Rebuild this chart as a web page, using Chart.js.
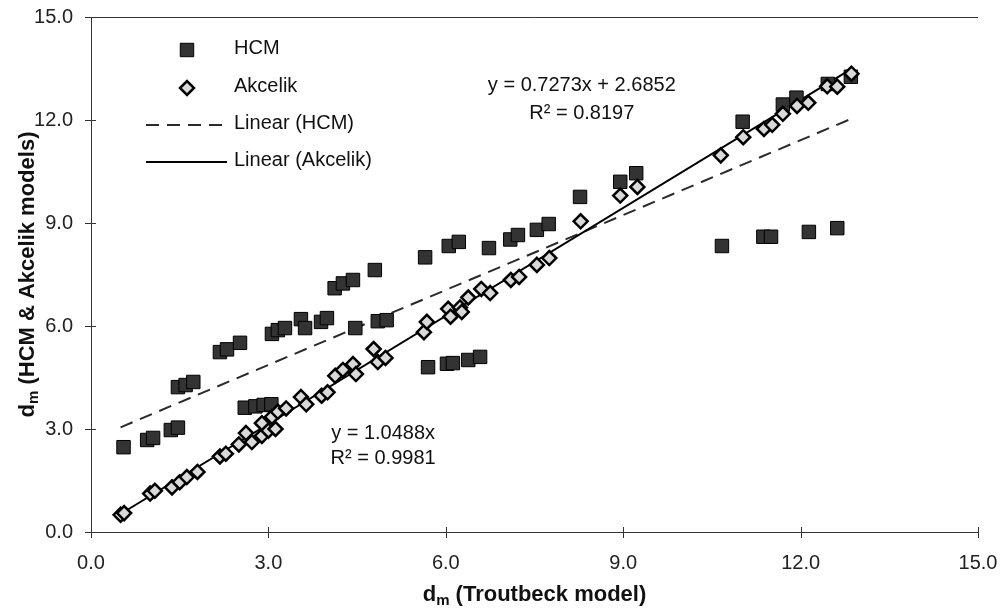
<!DOCTYPE html>
<html>
<head>
<meta charset="utf-8">
<script src="https://cdn.jsdelivr.net/npm/chart.js@4.4.1/dist/chart.umd.min.js"></script>
<style>
  html, body { margin: 0; padding: 0; background: #fff; }
  canvas { display: block; }
</style>
</head>
<body>
<canvas id="chart" width="1008" height="612"></canvas>
<script>
// Delay per model: Troutbeck (x) against HCM and Akcelik (y)
const hcmX = [0.55, 0.95, 1.05, 1.35, 1.47, 1.47, 1.60, 1.73, 2.18, 2.30, 2.52, 2.60, 2.78, 2.92, 3.05,
              3.06, 3.16, 3.28, 3.55, 3.62, 3.89, 3.99, 4.12, 4.26, 4.43, 4.47, 4.80, 4.85, 5.00,
              5.65, 6.05, 6.22, 6.73, 7.09, 7.22, 7.54, 7.74, 8.27, 8.95, 9.22, 11.02, 11.70, 11.93,
              12.46, 12.85, 5.70, 6.02, 6.12, 6.38, 6.58, 10.67, 11.37, 11.50, 12.14, 12.62];
const hcmY = [2.47, 2.68, 2.74, 2.97, 3.04, 4.22, 4.28, 4.37, 5.24, 5.32, 5.51, 3.62, 3.66, 3.70, 3.72,
              5.77, 5.88, 5.94, 6.20, 5.94, 6.12, 6.23, 7.10, 7.24, 7.34, 5.94, 7.63, 6.14, 6.17,
              8.00, 8.33, 8.45, 8.27, 8.52, 8.65, 8.80, 8.97, 9.76, 10.20, 10.45, 11.95, 12.45, 12.65,
              13.05, 13.26, 4.80, 4.90, 4.92, 5.01, 5.10, 8.33, 8.60, 8.60, 8.74, 8.85];

const akcX = [0.50, 0.56, 1.00, 1.08, 1.37, 1.50, 1.62, 1.80, 2.18, 2.28, 2.50, 2.62, 2.72, 2.89, 2.89,
              3.00, 3.06, 3.12, 3.16, 3.30, 3.55, 3.64, 3.90, 4.00, 4.13, 4.26, 4.43, 4.48, 4.78,
              4.85, 4.98, 5.63, 5.68, 6.04, 6.08, 6.24, 6.27, 6.38, 6.60, 6.75, 7.10, 7.24, 7.54,
              7.75, 8.28, 8.95, 9.24, 10.65, 11.03, 11.38, 11.52, 11.70, 11.94, 12.13, 12.45, 12.62, 12.86];
const akcY = [0.50, 0.55, 1.12, 1.20, 1.30, 1.45, 1.60, 1.75, 2.20, 2.28, 2.55, 2.88, 2.62, 2.80, 3.17,
              2.95, 3.35, 3.00, 3.50, 3.60, 3.93, 3.72, 3.97, 4.07, 4.55, 4.72, 4.89, 4.60, 5.33,
              4.95, 5.07, 5.82, 6.12, 6.50, 6.27, 6.54, 6.41, 6.83, 7.08, 6.96, 7.34, 7.43, 7.78,
              7.98, 9.05, 9.80, 10.05, 10.97, 11.50, 11.74, 11.86, 12.18, 12.41, 12.50, 12.98, 12.97, 13.35];

// Fitted trendlines as printed on the chart
const hcmFit = { slope: 0.7273, intercept: 2.6852, r2: '0.8197' };
const akcFit = { slope: 1.0488, intercept: 0, r2: '0.9981' };

const tickValues = [0, 3, 6, 9, 12, 15];
const seriesNames = ['HCM', 'Akcelik', 'Linear (HCM)', 'Linear (Akcelik)'];
const xTitle = ['d', 'm', ' (Troutbeck model)'];
const yTitle = ['d', 'm', ' (HCM & Akcelik models)'];

const FONT = '"Liberation Sans", Arial, Helvetica, sans-serif';

const toPoints = (xs, ys) => xs.map((v, i) => ({ x: v, y: ys[i] }));
const xLo = Math.min(...hcmX, ...akcX);
const xHi = Math.max(...hcmX, ...akcX);
const fitLine = f => [xLo, xHi].map(v => ({ x: v, y: f.slope * v + f.intercept }));

const styles = {
  hcm: { pointStyle: 'rect', radius: 9.5, backgroundColor: '#333', borderColor: '#000', borderWidth: 1 },
  akc: { pointStyle: 'rectRot', radius: 7, backgroundColor: '#d9d9d9', borderColor: '#000', borderWidth: 2.5 },
  hcmLine: { color: '#2a2a2a', width: 2, dash: [13, 8] },
  akcLine: { color: '#000', width: 2, dash: [] }
};

// Subscripted title: big "d", small "m", then the rest
function drawSubTitle(ctx, parts, cx, cy, rotate) {
  const big = 'bold 22px ' + FONT, small = 'bold 15px ' + FONT;
  ctx.save();
  ctx.translate(cx, cy);
  if (rotate) ctx.rotate(-Math.PI / 2);
  ctx.fillStyle = '#111';
  ctx.textBaseline = 'middle';
  ctx.textAlign = 'left';
  ctx.font = big; const w0 = ctx.measureText(parts[0]).width, w2 = ctx.measureText(parts[2]).width;
  ctx.font = small; const w1 = ctx.measureText(parts[1]).width;
  let x = -(w0 + w1 + w2) / 2;
  ctx.font = big; ctx.fillText(parts[0], x, 0); x += w0;
  ctx.font = small; ctx.fillText(parts[1], x, 6); x += w1;
  ctx.font = big; ctx.fillText(parts[2], x, 0);
  ctx.restore();
}

function drawMarker(ctx, s, x, y) {
  ctx.save();
  ctx.fillStyle = s.backgroundColor;
  ctx.strokeStyle = s.borderColor;
  ctx.lineWidth = s.borderWidth;
  Chart.helpers.drawPoint(ctx, { pointStyle: s.pointStyle, radius: s.radius, rotation: 0, borderWidth: s.borderWidth }, x, y);
  ctx.restore();
}

const decor = {
  id: 'decor',
  beforeDraw(chart) {
    const ctx = chart.ctx;
    ctx.save();
    ctx.fillStyle = '#fff';
    ctx.fillRect(0, 0, chart.width, chart.height);
    ctx.restore();
  },
  afterDraw(chart) {
    const { ctx, chartArea: a, scales: { x, y } } = chart;
    ctx.save();
    // top frame line
    ctx.strokeStyle = '#333';
    ctx.lineWidth = 1;
    ctx.beginPath();
    ctx.moveTo(a.left, a.top + 0.5);
    ctx.lineTo(a.right, a.top + 0.5);
    ctx.stroke();
    // tick marks crossing the axes
    ctx.beginPath();
    x.ticks.forEach(t => {
      const px = Math.round(x.getPixelForValue(t.value)) + 0.5;
      ctx.moveTo(px, a.bottom - 5); ctx.lineTo(px, a.bottom + 6);
    });
    y.ticks.forEach(t => {
      const py = Math.round(y.getPixelForValue(t.value)) + 0.5;
      ctx.moveTo(a.left - 6, py); ctx.lineTo(a.left + 5, py);
    });
    ctx.stroke();

    // legend
    const lx = a.left + 96, lineL = a.left + 55, lineR = a.left + 136, tx = a.left + 143;
    const rows = [a.top + 33, a.top + 71, a.top + 108, a.top + 145];
    drawMarker(ctx, styles.hcm, lx, rows[0]);
    drawMarker(ctx, styles.akc, lx, rows[1]);
    [styles.hcmLine, styles.akcLine].forEach((s, i) => {
      ctx.save();
      ctx.strokeStyle = s.color; ctx.lineWidth = s.width; ctx.setLineDash(s.dash);
      ctx.beginPath();
      ctx.moveTo(lineL, rows[2 + i]); ctx.lineTo(lineR, rows[2 + i]);
      ctx.stroke();
      ctx.restore();
    });
    ctx.fillStyle = '#111';
    ctx.font = '20px ' + FONT;
    ctx.textAlign = 'left';
    ctx.textBaseline = 'middle';
    seriesNames.forEach((n, i) => ctx.fillText(n, tx, rows[i] - 2));

    // trendline equations
    ctx.textAlign = 'center';
    const eq1x = x.getPixelForValue(8.3), eq2x = x.getPixelForValue(4.94);
    ctx.fillText('y = ' + hcmFit.slope + 'x + ' + hcmFit.intercept, eq1x, y.getPixelForValue(13.0));
    ctx.fillText('R\u00B2 = ' + hcmFit.r2, eq1x, y.getPixelForValue(12.18));
    ctx.fillText('y = ' + akcFit.slope + 'x', eq2x, y.getPixelForValue(2.88));
    ctx.fillText('R\u00B2 = ' + akcFit.r2, eq2x, y.getPixelForValue(2.13));

    // axis titles
    drawSubTitle(ctx, xTitle, (a.left + a.right) / 2, 595, false);
    drawSubTitle(ctx, yTitle, 28, (a.top + a.bottom) / 2, true);
    ctx.restore();
  }
};

const axisCommon = {
  type: 'linear',
  min: 0,
  max: 15,
  grid: { display: false, drawTicks: false },
  border: { display: true, color: '#333', width: 1 },
  afterBuildTicks(scale) { scale.ticks = tickValues.map(v => ({ value: v })); },
};

new Chart(document.getElementById('chart'), {
  type: 'scatter',
  data: {
    datasets: [
      {
        label: seriesNames[1],
        data: toPoints(akcX, akcY),
        pointStyle: styles.akc.pointStyle,
        pointRadius: styles.akc.radius,
        backgroundColor: styles.akc.backgroundColor,
        borderColor: styles.akc.borderColor,
        borderWidth: styles.akc.borderWidth,
        order: 1
      },
      {
        label: seriesNames[0],
        data: toPoints(hcmX, hcmY),
        pointStyle: styles.hcm.pointStyle,
        pointRadius: styles.hcm.radius,
        backgroundColor: styles.hcm.backgroundColor,
        borderColor: styles.hcm.borderColor,
        borderWidth: styles.hcm.borderWidth,
        order: 2
      },
      {
        label: seriesNames[3],
        data: fitLine(akcFit),
        showLine: true,
        pointRadius: 0,
        borderColor: styles.akcLine.color,
        borderWidth: styles.akcLine.width,
        order: 3
      },
      {
        label: seriesNames[2],
        data: fitLine(hcmFit),
        showLine: true,
        pointRadius: 0,
        borderColor: styles.hcmLine.color,
        borderWidth: styles.hcmLine.width,
        borderDash: styles.hcmLine.dash,
        order: 4
      }
    ]
  },
  options: {
    responsive: false,
    animation: false,
    devicePixelRatio: 1,
    layout: { padding: { left: 0, top: 17, right: 30, bottom: 0 } },
    plugins: { legend: { display: false }, tooltip: { enabled: false } },
    scales: {
      x: Object.assign({}, axisCommon, {
        position: 'bottom',
        ticks: { padding: 19, color: '#222', font: { family: FONT, size: 20 }, callback: v => v.toFixed(1), maxRotation: 0, autoSkip: false },
        afterFit(scale) { scale.height = 80; scale.paddingLeft = 0; scale.paddingRight = 0; }
      }),
      y: Object.assign({}, axisCommon, {
        position: 'left',
        ticks: { padding: 18, color: '#222', font: { family: FONT, size: 20 }, callback: v => v.toFixed(1), autoSkip: false },
        afterFit(scale) { scale.width = 91; scale.paddingTop = 0; scale.paddingBottom = 0; }
      })
    }
  },
  plugins: [decor]
});
</script>
</body>
</html>
